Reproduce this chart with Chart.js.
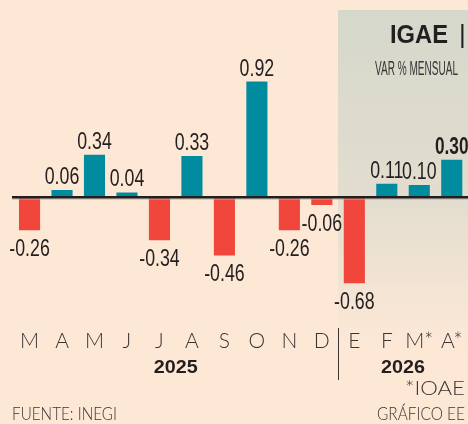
<!DOCTYPE html>
<html>
<head>
<meta charset="utf-8">
<script src="https://cdn.jsdelivr.net/npm/chart.js@4"></script>
<style>
  html, body { margin: 0; padding: 0; background: #fde8d6; }
  canvas { display: block; }
</style>
</head>
<body>
<canvas id="chartIgae" width="468" height="424"></canvas>
<script>
// datos IGAE, var % mensual
const meses = ['M', 'A', 'M', 'J', 'J', 'A', 'S', 'O', 'N', 'D', 'E', 'F', 'M*', 'A*'];
const variacion = [-0.26, 0.06, 0.34, 0.04, -0.34, 0.33, -0.46, 0.92, -0.26, -0.06, -0.68, 0.11, 0.10, 0.30];
const anios = ['2025', '2026'];
const mesesPorAnio = [10, 4];

const AZUL = '#008c9e';
const ROJO = '#f0463c';
const TEXTO = '#231f20';

// texto con ancho forzado (las fuentes del original son condensadas)
function texto(ctx, str, x, y, font, opts) {
  opts = opts || {};
  ctx.save();
  ctx.font = font;
  ctx.fillStyle = opts.color || TEXTO;
  ctx.textBaseline = 'alphabetic';
  const w = ctx.measureText(str).width;
  const sx = opts.width ? opts.width / w : (opts.scale || 1);
  const real = w * sx;
  let x0 = x;
  if (opts.align === 'center') x0 = x - real / 2;
  if (opts.align === 'right') x0 = x - real;
  ctx.translate(x0, y);
  ctx.scale(sx, 1);
  ctx.textAlign = 'left';
  ctx.fillText(str, 0, 0);
  ctx.restore();
}

const dibujo = {
  id: 'dibujo',
  beforeDraw(chart) {
    const ctx = chart.ctx;
    const x = chart.scales.x;
    const corte = (x.getPixelForValue(mesesPorAnio[0] - 1) + x.getPixelForValue(mesesPorAnio[0])) / 2;
    ctx.save();
    ctx.fillStyle = '#fde8d6';
    ctx.fillRect(0, 0, chart.width, chart.height);
    // zona sombreada (estimado)
    const g = ctx.createLinearGradient(0, 10, 0, 345);
    g.addColorStop(0, '#d5d8cb');
    g.addColorStop(0.55, '#e2ddcf');
    g.addColorStop(1, '#fde8d6');
    ctx.fillStyle = g;
    ctx.fillRect(Math.round(corte), 10, chart.width - Math.round(corte), 335);
    ctx.restore();
  },
  afterDatasetsDraw(chart) {
    const ctx = chart.ctx;
    const x = chart.scales.x;
    const y = chart.scales.y;
    const y0 = y.getPixelForValue(0);

    // linea del cero
    ctx.save();
    ctx.fillStyle = '#b9aea4';
    ctx.fillRect(12, y0 + 1, chart.width - 12, 1);
    ctx.fillStyle = TEXTO;
    ctx.fillRect(12, y0 - 1.5, chart.width - 12, 2.5);
    ctx.restore();

    // etiquetas de valores
    const meta = chart.getDatasetMeta(0);
    meta.data.forEach((bar, i) => {
      const v = variacion[i];
      const txt = v.toFixed(2);
      const bold = i === variacion.length - 1;
      const font = (bold ? 'bold ' : '') + '24px "Liberation Sans", Arial, sans-serif';
      if (v >= 0) {
        texto(ctx, txt, bar.x, bar.y - 6, font, { align: 'center', scale: bold ? 0.72 : 0.74 });
      } else {
        texto(ctx, txt, bar.x, bar.y + 26, font, { align: 'center', scale: 0.74 });
      }
    });

    // meses
    meses.forEach((m, i) => {
      texto(ctx, m, x.getPixelForValue(i), 348, '300 21px Lato, "Open Sans", sans-serif', { align: 'center', color: '#3a3535' });
    });

    // separador de anios
    const corte = (x.getPixelForValue(mesesPorAnio[0] - 1) + x.getPixelForValue(mesesPorAnio[0])) / 2;
    ctx.save();
    ctx.strokeStyle = '#3a3535';
    ctx.lineWidth = 1;
    ctx.beginPath();
    ctx.moveTo(Math.round(corte) + 0.5, 328);
    ctx.lineTo(Math.round(corte) + 0.5, 380);
    ctx.stroke();
    ctx.restore();

    // anios
    let ini = 0;
    anios.forEach((a, k) => {
      const fin = ini + mesesPorAnio[k] - 1;
      const cx = (x.getPixelForValue(ini) + x.getPixelForValue(fin)) / 2;
      texto(ctx, a, cx, 373, 'bold 19px "Liberation Sans", Arial, sans-serif', { align: 'center', width: 44 });
      ini = fin + 1;
    });

    // titulo
    texto(ctx, 'IGAE', 390, 43, 'bold 26px "Liberation Sans", Arial, sans-serif', { width: 58 });
    texto(ctx, '|', 459, 43, '26px "Liberation Sans", Arial, sans-serif', { color: '#231f20' });
    texto(ctx, 'VAR % MENSUAL', 375, 75, '20px "Liberation Sans", Arial, sans-serif', { width: 83, color: '#3a3535' });

    // notas
    texto(ctx, '*IOAE', 465, 395, '300 20px Lato, "Open Sans", sans-serif', { align: 'right', width: 60, color: '#3a3535' });
    texto(ctx, 'FUENTE: INEGI', 12, 420, '300 18px Lato, "Open Sans", sans-serif', { width: 105, color: '#3a3535' });
    texto(ctx, 'GRÁFICO EE', 465, 420, '300 18px Lato, "Open Sans", sans-serif', { align: 'right', width: 88, color: '#3a3535' });
  }
};

new Chart(document.getElementById('chartIgae'), {
  type: 'bar',
  data: {
    labels: meses,
    datasets: [{
      data: variacion,
      backgroundColor: variacion.map(v => v >= 0 ? AZUL : ROJO),
      borderWidth: 0,
      barPercentage: 0.65,
      categoryPercentage: 1
    }]
  },
  options: {
    responsive: false,
    animation: false,
    layout: { padding: { left: 13.3, right: 0, top: 46.3, bottom: 100.5 } },
    plugins: {
      legend: { display: false },
      tooltip: { enabled: false },
      title: { display: false }
    },
    scales: {
      x: { display: false, offset: true },
      y: { display: false, min: -1.0, max: 1.2 }
    }
  },
  plugins: [dibujo]
});
</script>
</body>
</html>
